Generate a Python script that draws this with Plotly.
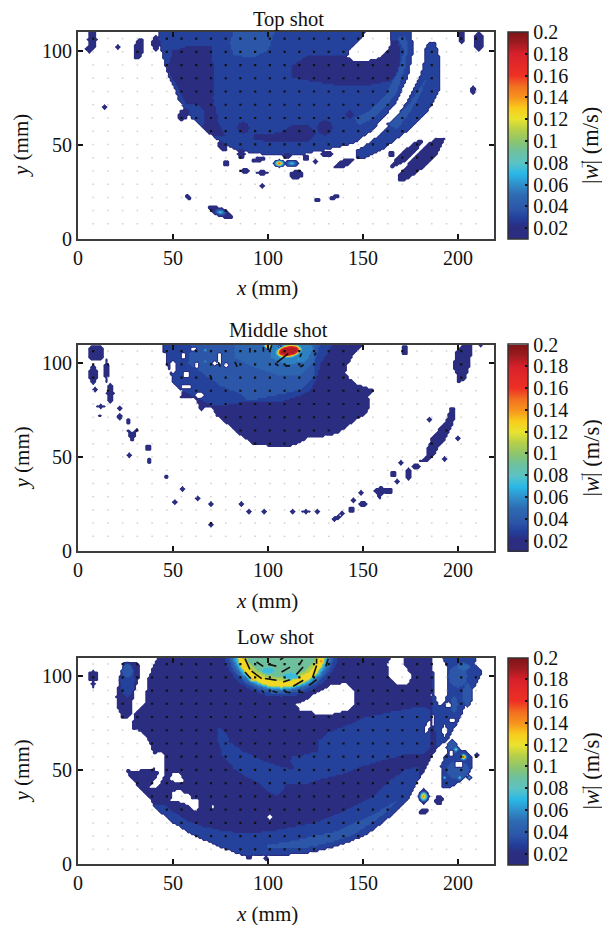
import numpy as np
import plotly.graph_objects as go

# ---------- data ----------
PANEL_TITLES = ["Top shot", "Middle shot", "Low shot"]
X_TICKS = [0, 50, 100, 150, 200]
Y_TICKS = [0, 50, 100]
CBAR_TICKS = [0.02, 0.04, 0.06, 0.08, 0.1, 0.12, 0.14, 0.16, 0.18, 0.2]
CBAR_LABELS = ["0.02", "0.04", "0.06", "0.08", "0.1", "0.12", "0.14", "0.16", "0.18", "0.2"]
DOT_X = [8 + 7.75 * i for i in range(27)]
DOT_Y = [7.8 + 7.05 * i for i in range(15)]

# speed of the flat colour bands (m/s); blank = no measured field
BLANK, A, B, C, D, E, F = 0.0, 0.021, 0.029, 0.037, 0.045, 0.053, 0.061

# Regions of the speed field, as outlines in mm, later ones painted over earlier ones.
TOP_REGIONS = [
    (B, [(43,111),(42,106),(44,100),(46,92),(48,86),(51,80),(53,74),(56,69),(60,64),(65,60),(69,56),(73,53),(78,50),
         (84,47),(90,46),(97,45),(105,44.5),(112,44),(118,44.5),(124,46),(130,47),(136,48.5),(141,49.5),(146,51),
         (150,54),(155,57.5),(158,61),(161,64),(164,68),(168,73),(171,80),(174,87),(175,92),(176.5,100),(176,106),(175,111)]),
    (BLANK, [(152,111),(165,111),(165,105),(163,100),(158,96),(151,94.5),(146,94),(142,97),(143,100),(147,104),(150,108)]),
    (A, [(50,100),(60,103),(70,103),(72,85),(71,75),(74,62),(78,54),(71,55),(66,60),(67,68),(62,72),(57,72),(54,78),(50,85),(47,90)]),
    (A, [(113,92),(122,98),(135,98),(142,97),(146,94),(151,94.5),(158,96),(163,100),(165,105),(168,106),(170,100),(170,90),(165,84),(150,81),(135,82),(122,84),(113,86)]),
    (A, [(93,56),(100,55),(108,57),(114,61),(122,60),(126,56),(122,52),(112,52),(103,51),(93,53)]),
    (C, [(82,111),(104,111),(100,100),(92,96),(82,98),(80,104)]),
    (C, [(148,60),(156,64),(162,70),(168,78),(172,90),(174,104),(172,108),(168,108),(172,100),(168,88),(162,76),(154,68),(146,64)]),
    (B, [(146,42.5),(152,43),(160,47),(168,53),(176,59),(182,65),(187,72),(191,81),(191,89),(190,98),(188.5,104),(185,105),
         (183,101),(182,93),(180,86),(176,78),(172,71),(167,64),(160,56),(152,50),(147,47)]),
    (C, [(163,61),(170,67),(176,74),(180,80),(184,86),(180,76),(174,66),(168,58)]),
    (A, [(165,37.5),(171,40),(177,45),(182.5,53),(179,52.5),(173,48),(167,42),(164,38.5)]),
    (A, [(168,30),(173,31),(180,36),(188,43),(193.5,53),(189.5,54),(185,51),(180,46),(174,40),(169,34)]),
]
# small patches: centre x, centre y, half width, half height, tilt (deg), speed
TOP_PATCHES = [
    (7.5,106,2.5,5,0,A),(6,101,2,2,0,A),(21,102,.8,1.2,0,A),(32,101,2.5,6,-10,A),(41,104,2.2,4,0,A),(202,107.5,1.5,3.5,0,A),
    (211,105,2.5,5,0,A),(208,79,1.5,2.5,0,A),(14,70,1,1,0,A),(55.5,66,2.5,3.5,-30,A),(76,49,3,1.8,-40,A),(86,45,2,2.5,0,A),
    (95,42,4,1.5,20,A),(110,44,2,1.7,0,A),(120,43,1.8,1.8,0,A),(125,41,1.7,1.2,0,A),(131,45,3,1.5,0,A),(140,40,5.5,2,25,A),
    (165,45,1.5,1.5,0,A),(115,34,4,2.2,10,A),(97,35,3.5,1,0,A),(88,36,2.5,.6,0,A),(78,40,1.5,1.5,0,A),(97,28,1.2,1.2,0,A),
    (58,22,1.8,1,-30,A),(135,22,3,1,20,A),(126,20.5,1.5,.6,0,A),(75,14,7.5,2.3,-25,A),
    (130,59,4,4,0,A),(87,59,3,3,0,A),(143,66,2,2,0,A),
]
# peaks: centre x, centre y, half width, half height, tilt (deg), peak speed
TOP_PEAKS = [(75,14,3.5,1.8,-10,.075),(106,40,3,2,0,.16),(112.5,40,3.5,2,0,.075)]

MID_REGIONS = [
    (A, [(44,111),(45,106),(48,104),(47,99),(49,95),(50,90),(53,88),(55,85),(54,82),(58,82),(62,81),(64,76),(65,74),(68,77),(71,76),
         (73,72),(78,68),(84,62.5),(88,60),(92,57),(100,56),(113,56),(118,58),(121,60),(130,61),(137,62.5),(143,67),(147,70),(152,73),
         (154,78),(153,82),(156,86),(150,88),(147,89),(143,92),(141,95),(142,99),(145,104),(152,111)]),
    (B, [(50,90),(54,86),(60,83),(66,80),(72,77),(80,78),(85,79),(95,80),(105,79),(115,82),(122,85),(125,90),(128,100),(132,106),(134,111),(45,111),(47,100)]),
    (C, [(68,93),(75,88),(85,84),(90,80),(100,82),(110,84),(118,86),(124,92),(125,102),(128,111),(60,111),(58,100)]),
    (D, [(82,111),(83,103),(93,98),(105,94),(118,94),(124,100),(125,111)]),
    (E, [(100,111),(102,103),(110,99),(120,101),(124,108),(122,111)]),
    (A, [(25,65.5),(28.5,63),(32,67),(29.5,58.5),(28,58.5)]),
    (A, [(157,33),(160,35),(162,33),(166,34),(166,31),(161,31),(159,27),(158,29),(156,32)]),
    (A, [(180,48),(183,50),(184,55),(186,60),(190,65),(194,70),(196,76),(199,77),(199,72),(197,66),(194,60),(190,55),(187,50),(184,47)]),
    (A, [(198,97),(200,92),(200,89.5),(204,91),(206,97),(207,103),(208,111),(203,111),(199,106),(198,101)]),
]
MID_PATCHES = [
    (9.5,105.5,4.5,4.5,0,A),(8,94,2.2,5,0,A),(15,96,1.3,6,0,A),(17,84,2,5,0,A),(9,86,1,.9,0,A),(12,77,2,.6,0,A),(22,76,1.6,1,0,A),
    (11.5,72,.7,.8,0,A),(22,71.5,.6,1.5,0,A),(26.5,69,1.3,1.5,0,A),(37,55,1.5,2,-25,A),(27,51,.6,1.6,0,A),(37.5,48,1,1.6,0,A),
    (46.5,39.5,1.3,1,0,A),(55,33,.8,.5,0,A),(63,28,.7,.7,0,A),(51,26,.7,.7,0,A),(70,25,.8,.5,0,A),(86,25,.6,.6,0,A),(90,21,.8,.3,0,A),
    (98,21,1.5,.8,0,A),(113,21,1.2,.5,0,A),(120,21,2.2,.5,0,A),(126,21,.8,.5,0,A),(70,14,.7,.4,0,A),(136,17.5,2.5,1.3,25,A),
    (139,20,.7,1.5,0,A),(144,22,1.6,1.6,30,A),(150,25,2.5,1.5,0,A),(145,27,.8,.8,0,A),(149,31,.8,.8,0,A),(168,37,1.5,1.2,0,A),
    (166,41,1.8,1.5,0,A),(170,47,.4,1.2,0,A),(174,41,1.7,3,0,A),(178,45,2.5,1.2,0,A),(193,49,1.3,.5,0,A),(185,70,1,.7,0,A),
    (200,60,.6,1,0,A),(212,110,1.5,1.2,0,A),(172,107,1.8,2.5,0,A),
    (60.7,107.8,1.5,1,0,BLANK),(55.5,104,1.4,.8,0,BLANK),(62.5,99,1.3,1.3,0,BLANK),(74.4,102.5,.8,3,0,BLANK),(72,100,.7,.8,0,BLANK),
    (57,87.5,2.5,1.3,0,BLANK),(78,99,.8,.8,0,BLANK),(107,108.7,1.2,.8,0,BLANK),(50,98,1.5,3,0,BLANK),(57,94,1.5,1.5,0,BLANK),(64,83,2,1.3,0,BLANK),
]
MID_PEAKS = [(111,106.5,7.5,3.6,10,.42),(100,109.5,2.5,2,0,.2),(67,107,1.7,1.7,0,.068),(67,101,1.5,1.7,0,.062),
             (90,102,2,3,0,.05),(116,102,1.5,3,0,.062),(107,103,1.5,2,0,.062)]

LOW_REGIONS = [
    (A, [(42,111),(39,104),(37,99),(36,92),(35,85),(30,80),(29,76),(29,72),(34,70),(37,66),(39,61),(41,57),(40,51),(33,50),(28,50),(25,51),
         (27,47),(31,42),(35,38),(39,33),(44,27),(50,22),(58,17),(66,13),(75,9),(83,6),(88,4),(95,5),(103,5),(112,5),(122,6),(131,8),(141,11),
         (151,15),(158,20),(163,24),(168,28),(173,33),(176,38),(179,44),(184,52),(187,58),(190,63),(187,74),(186,90),(187,111)]),
    (A, [(20,89),(22,100),(24,107),(30,108),(33,106),(32,98),(30,92),(29,87),(28,79),(26,77),(23,78),(21,83)]),
    (B, [(74,73),(78,70),(80,65),(87,60),(98,55),(107,52),(114,50),(112,55),(113,57),(119,58),(127,60),(127,66),(132,70),(142,74),(151,78),
         (165,81),(181,84),(186,82),(186,62),(183,59),(172,58),(160,55),(150,52),(140,48),(128,45),(118,42),(110,43),(107,38),(105,36),
         (100,39),(94,44),(88,47),(82,51),(76,58),(74,65)]),
    (B, [(40,31),(45,32),(50,28),(58,23),(66,20),(75,18),(88,16),(105,18),(125,22),(142,29),(155,36),(165,45),(172,50),(180,52),(179,44),(176,38),
         (173,33),(168,28),(163,24),(158,20),(151,15),(141,11),(131,8),(122,6),(112,5),(103,5),(95,5),(88,4),(83,6),(75,9),(66,13),(58,17),(50,22),(44,27)]),
    (C, [(100,10),(112,12),(125,15),(135,17),(146,22),(155,26),(165,32),(170,35),(163,28),(155,22),(146,16),(135,12),(122,9),(110,9),(100,9)]),
    (B, [(189,62),(195,66),(198,72),(201,77),(204,85),(207,92),(210,96),(213,103),(209,107),(210,111),(190,111),(186,100),(187,80)]),
    (B, [(192,40),(197,41),(203,45),(207,50),(208,57),(205,60),(199,62),(195,60),(193,57),(191,52)]),
    (BLANK, [(163,106),(165,111),(171,111),(172,106),(176,100),(174,96),(168,96),(164,100)]),
    (BLANK, [(115,85),(120,87),(124,90),(133,95),(141,96.5),(146,92),(146,86),(143,82),(135,80),(126,79),(122,82),(117,82)]),
    (BLANK, [(40,49.5),(43,49),(38,41),(41,40),(44,44),(46,48),(46,53),(45,59),(43,60),(41,58)]),
    (BLANK, [(48,44.5),(50,49),(53,49),(56,44),(53,43.5)]),
    (BLANK, [(49,34),(50,38),(53,40),(56,38),(58,38),(60,35),(64,35),(64,30),(61,28),(59,31),(54,33)]),
    (BLANK, [(188,111),(191,111),(195,104),(195,92),(193,86),(190,84),(188,90),(188,100)]),
]
LOW_PATCHES = [
    (107,113,30,24,0,B),(107,113,28,22.5,0,C),(107,113,27,21.5,0,D),(107,113,26,20.5,0,E),(107,113,25,20,0,F),
    (107,113,24.5,19.5,0,.069),(107,113,23.5,19,0,.11),(107,113,23,18.5,0,.12),(107,113,20,15.5,0,.10),(107,113,18.5,13.5,0,.085),
    (112,100,4,2,0,.069),(100,103,3,1.5,0,.069),
    (26,98,4,9,0,B),(26,103,3,3.5,0,C),(8,100,2.7,3,0,A),(8,96,1,2,0,A),(71,30.5,.9,.9,0,BLANK),(101,25,.6,.6,0,BLANK),
    (200,100,5,6,0,C),(205,90,2.5,6,0,C),(198,85,2,4,0,C),(203,105,3,2,0,D),(197,62,3,4,0,C),(200,50,6,5,0,C),
    (195,84.6,1.5,1.5,0,BLANK),(193,71,1.2,3,0,BLANK),(197,76.6,1.5,.7,0,BLANK),(196.5,59,1,1.5,0,BLANK),(200.5,53,2.3,1.8,0,BLANK),(184,73,1.1,3.5,-20,BLANK),
    (182,36,3,4,0,A),(190,34,2,3,-20,A),(182,28,3,1.5,30,A),(210,58,1,1,0,A),(99,3,1.3,1,0,A),(90,3.5,1.5,1,0,A),
]
LOW_PEAKS = [(87,110,2.2,2.2,0,.16),(128,108,1.2,2,0,.14),(92,98,3,1.2,0,.14),(203,57,1.8,1.8,0,.17),(199,61,1.6,1.6,0,.095),
             (193,46,1.2,1.2,0,.08),(201,46,1.5,1.5,0,.085),(206,46,1.2,1,0,.07),(182,36,2.5,3,0,.15)]

# velocity arrows that are long enough to read (start x, start y, dx, dy in mm)
TOP_ARROWS = []
MID_ARROW_X = [110.7, 97.6, 102.0, 90.5, 82.6, 73.9, 69.5, 109.0, 117.0, 124.4, 116.8, 103.7]
MID_ARROW_Y = [105.2, 108.7, 109.6, 108.2, 100.7, 100.7, 93.7, 98.6, 98.0, 104.3, 103.4, 99.9]
MID_ARROW_U = [-6.1, 0.0, -0.9, 0.0, 1.2, 0.9, 0.9, 2.6, 1.8, 0.9, 0.9, 1.8]
MID_ARROW_V = [-4.8, -2.6, -2.7, -2.5, -2.6, -2.6, -2.6, 0.0, 1.2, 1.4, 1.8, -1.2]
LOW_ARROW_X = [87.9, 94.0, 100.0, 106.3, 116.8, 125.6, 130.5, 100.0, 107.2, 115.0, 123.5,
               87.9, 91.4, 98.4, 108.0, 113.3, 121.7, 96.7, 102.4, 109.0, 116.0]
LOW_ARROW_Y = [109.4, 107.6, 109.4, 108.8, 106.7, 106.7, 105.3, 106.4, 102.3, 101.0, 99.3,
               102.3, 102.7, 98.8, 97.0, 94.7, 95.2, 92.6, 92.2, 91.7, 91.7]
LOW_ARROW_U = [2.6, 3.5, 0.0, 1.8, 1.4, 0.0, 1.2, 4.4, 4.4, 3.5, 2.1,
               3.0, 5.3, 6.1, 3.5, 5.3, 3.9, 1.2, 2.5, 3.0, 2.6]
LOW_ARROW_V = [-5.8, -2.3, -1.8, 1.0, 2.1, 2.6, 4.0, -1.0, 2.6, 3.9, 6.5,
               -3.5, -3.9, -0.9, 1.2, 3.2, 3.0, -1.4, -0.9, -0.5, -0.5]

# ---------- helpers ----------
W, H = 602, 925
SERIF = "Liberation Serif"
INK = "#111111"
PLOT_L, PLOT_R = 78, 494
TOPS = [32, 344.5, 657.5]
PLOT_H = 206.5
CB_L, CB_T = 507.5, 20
TITLE_Y = [19, 330, 637]
TITLE_X = [288, 278, 275]
FIELD_CAP = 0.175

STOPS = [
    (0.021, "#2b2d80"), (0.029, "#233f9b"), (0.037, "#2c55a8"),
    (0.050, "#2e6ab2"), (0.060, "#2f8fcb"), (0.070, "#29b8e8"), (0.080, "#5cc3c4"),
    (0.090, "#6cc09f"), (0.100, "#8dc56c"), (0.110, "#b5cf4a"), (0.120, "#e9e32e"),
    (0.130, "#f9cc1c"), (0.140, "#f7941d"), (0.150, "#f37021"), (0.160, "#ee3124"),
    (0.180, "#d8202b"), (0.190, "#9e1c20"), (0.200, "#7d1416"),
]
ZMAX = 0.2
FLOOR = 0.009
BAND = 0.008
# a contour band takes its colour one band below its own mid value
FIELD_SCALE = [[0, "#ffffff"], [0.002 / ZMAX, "#ffffff"], [0.004 / ZMAX, "#2b2d80"]] + [[(v - BAND) / ZMAX, c] for v, c in STOPS] + [[1, "#7d1416"]]
BAR_SCALE = [[0, "#2b2d80"]] + [[(v - 0.01) / (ZMAX - 0.01), c] for v, c in STOPS]

XS = np.arange(0, 220.0)
YS = np.arange(0, 111.0)
GX, GY = np.meshgrid(XS, YS)


def inside(outline):
    pts = np.asarray(outline, float)
    x0, y0 = pts[:, 0], pts[:, 1]
    x1, y1 = np.roll(x0, -1), np.roll(y0, -1)
    hit = np.zeros(GX.shape, bool)
    for a, b, c, d in zip(x0, y0, x1, y1):
        if b == d:
            continue
        cond = (b > GY) != (d > GY)
        xcross = a + (GY - b) * (c - a) / (d - b)
        hit ^= cond & (GX < xcross)
    return hit


def radius(cx, cy, rx, ry, deg):
    t = np.radians(deg)
    dx, dy = GX - cx, GY - cy
    u = dx * np.cos(t) + dy * np.sin(t)
    v = -dx * np.sin(t) + dy * np.cos(t)
    return np.sqrt((u / rx) ** 2 + (v / ry) ** 2)


def build(regions, patches, peaks):
    z = np.zeros(GX.shape)
    for value, outline in regions:
        z[inside(outline)] = value
    for cx, cy, rx, ry, deg, value in patches:
        # very small patches are widened to reach at least one raster node
        r = radius(cx, cy, max(rx, 1.1), max(ry, 1.1), deg)
        z[r <= 1] = value
    for cx, cy, rx, ry, deg, value in peaks:
        r = radius(cx, cy, max(rx, 1.1), max(ry, 1.1), deg)
        m = r <= 1
        z[m] = np.maximum(z[m], A + (value - A) * (1 - r[m]))
    return np.round(np.minimum(z, FIELD_CAP), 4)


def segments(xs, ys, us, vs):
    lx, ly = [], []
    for x, y, u, v in zip(xs, ys, us, vs):
        lx += [x, x + u, None]
        ly += [y, y + v, None]
    return lx, ly


def label(text, px, py, size, angle=0):
    return dict(text=text, xref="paper", yref="paper", x=px / W, y=1 - py / H,
                xanchor="center", yanchor="middle", textangle=angle, showarrow=False,
                font=dict(family=SERIF, size=size, color=INK))


fig = go.Figure()
FIELDS = [(TOP_REGIONS, TOP_PATCHES, TOP_PEAKS), (MID_REGIONS, MID_PATCHES, MID_PEAKS), (LOW_REGIONS, LOW_PATCHES, LOW_PEAKS)]
ARROWS = [
    (TOP_ARROWS, TOP_ARROWS, TOP_ARROWS, TOP_ARROWS),
    (MID_ARROW_X, MID_ARROW_Y, MID_ARROW_U, MID_ARROW_V),
    (LOW_ARROW_X, LOW_ARROW_Y, LOW_ARROW_U, LOW_ARROW_V),
]
annotations = []
layout_axes = {}
for k, field in enumerate(FIELDS):
    sfx = "" if k == 0 else str(k + 1)
    xa, ya = "x" + sfx, "y" + sfx
    z = build(*field)
    fig.add_trace(go.Contour(
        x=XS, y=YS, z=z, xaxis=xa, yaxis=ya,
        zmin=0, zmax=ZMAX, colorscale=FIELD_SCALE, showscale=False, hoverinfo="skip",
        autocontour=False,
        contours=dict(start=FLOOR, end=0.2, size=BAND, coloring="fill", showlines=False),
        line=dict(width=0, smoothing=1.0),
    ))
    # grid of vector markers: dark over the field, pale elsewhere
    dx_on, dy_on, dx_off, dy_off = [], [], [], []
    for y in DOT_Y:
        for x in DOT_X:
            if z[int(round(y)), int(round(x))] > 0:
                dx_on.append(x); dy_on.append(y)
            else:
                dx_off.append(x); dy_off.append(y)
    fig.add_trace(go.Scatter(x=dx_off, y=dy_off, xaxis=xa, yaxis=ya, mode="markers", hoverinfo="skip",
                             marker=dict(symbol="square", size=1.5, color="#cfcfcf", line=dict(width=0))))
    fig.add_trace(go.Scatter(x=dx_on, y=dy_on, xaxis=xa, yaxis=ya, mode="markers", hoverinfo="skip",
                             marker=dict(symbol="square", size=2.2, color=INK, line=dict(width=0))))
    ax, ay, au, av = ARROWS[k]
    if ax:
        lx, ly = segments(ax, ay, au, av)
        fig.add_trace(go.Scatter(x=lx, y=ly, xaxis=xa, yaxis=ya, mode="lines", hoverinfo="skip",
                                 line=dict(color=INK, width=1.6)))
    top = TOPS[k]
    dom_y = [1 - (top + PLOT_H) / H, 1 - top / H]
    fig.add_trace(go.Scatter(
        x=[-50, -50], y=[-50, -50], xaxis=xa, yaxis=ya, mode="markers", hoverinfo="skip",
        marker=dict(
            color=[0.01, ZMAX], cmin=0.01, cmax=ZMAX, colorscale=BAR_SCALE, showscale=True, size=1,
            colorbar=dict(
                x=CB_L / W, xanchor="left", y=dom_y[1], yanchor="top", len=PLOT_H / H, lenmode="fraction",
                thickness=CB_T, thicknessmode="pixels", xpad=0, ypad=0,
                outlinecolor="#333333", outlinewidth=1.5,
                tickmode="array", tickvals=CBAR_TICKS, ticktext=CBAR_LABELS,
                ticks="inside", ticklen=3, tickcolor=INK, tickwidth=1.5,
                tickfont=dict(family=SERIF, size=20, color=INK),
            ),
        ),
    ))
    axis_common = dict(
        showgrid=False, zeroline=False, ticks="inside", ticklen=5, tickwidth=2, tickcolor=INK,
        showline=True, linecolor="#3c3c3c", linewidth=2, mirror="ticks", automargin=False,
        tickfont=dict(family=SERIF, size=20, color=INK),
    )
    layout_axes["xaxis" + sfx] = dict(
        axis_common, domain=[PLOT_L / W, PLOT_R / W], range=[0, 219], anchor=ya, tickvals=X_TICKS,
    )
    layout_axes["yaxis" + sfx] = dict(
        axis_common, domain=dom_y, range=[0, 110], anchor=xa, tickvals=Y_TICKS,
    )
    annotations.append(label(PANEL_TITLES[k], TITLE_X[k], TITLE_Y[k], 20.5))
    annotations.append(label("<i>x</i> (mm)", 267, top + PLOT_H + 50, 21))
    annotations.append(label("<i>y</i> (mm)", 21, top + 114, 21, -90))
    annotations.append(label("|<i>w</i>| (m/s)", 591, top + 114, 22.5, -90))
    annotations.append(label("→", 580, top + 132, 12, -90))

fig.update_layout(
    width=W, height=H, autosize=False, margin=dict(l=0, r=0, t=0, b=0),
    paper_bgcolor="white", plot_bgcolor="white", showlegend=False,
    annotations=annotations, **layout_axes,
)
fig.write_html("out.html", config={"displayModeBar": False},
               post_script="document.body.style.margin='0';")
